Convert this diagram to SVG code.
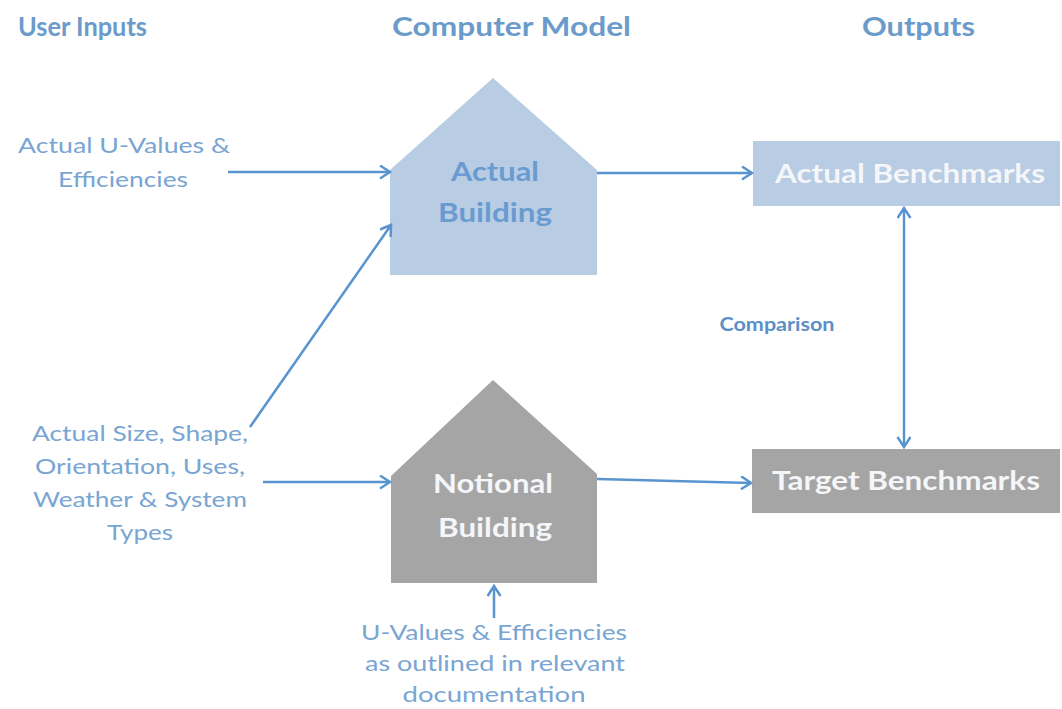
<svg xmlns="http://www.w3.org/2000/svg" width="1062" height="709" viewBox="0 0 1062 709">
  <style>
    .hdr { font-family: Lato, "Liberation Sans", sans-serif; font-weight: bold; font-size: 27px; fill: #6b9bcb; text-anchor: middle; }
    .inp { font-family: Lato, "Liberation Sans", sans-serif; font-size: 21px; fill: #79a5d3; text-anchor: middle; }
    .lbl { font-family: Lato, "Liberation Sans", sans-serif; font-weight: bold; font-size: 26px; text-anchor: middle; }
    .blue-txt { fill: #6a9bd0; }
    .light-txt { fill: #f4f6f9; }
    .cmp { font-family: Lato, "Liberation Sans", sans-serif; font-weight: bold; font-size: 19px; fill: #5b8fc7; text-anchor: middle; }
    .conn { fill: none; stroke: #5a94cf; stroke-width: 2.5; }
    .blue-fill { fill: #b8cce4; }
    .grey-fill { fill: #a5a5a5; }
  </style>
  <defs>
    <marker id="arrow" markerUnits="userSpaceOnUse" markerWidth="14" markerHeight="16" refX="11" refY="7" orient="auto-start-reverse" viewBox="0 0 14 16">
      <path d="M1,0.5 L11,7 L1,13.5" fill="none" stroke="#5a94cf" stroke-width="2.5"/>
    </marker>
  </defs>
  <rect width="1062" height="709" fill="#ffffff"/>

  <!-- column headings -->
  <g id="headings">
    <text class="hdr" x="82.5" y="36" textLength="129" lengthAdjust="spacingAndGlyphs">User Inputs</text>
    <text class="hdr" x="511.5" y="36" textLength="239" lengthAdjust="spacingAndGlyphs">Computer Model</text>
    <text class="hdr" x="918.5" y="36" textLength="113" lengthAdjust="spacingAndGlyphs">Outputs</text>
  </g>

  <!-- inputs -->
  <g id="input-actual-values">
    <text class="inp" x="124" y="153" textLength="212" lengthAdjust="spacingAndGlyphs">Actual U-Values &amp;</text>
    <text class="inp" x="123" y="187" textLength="130" lengthAdjust="spacingAndGlyphs">Efficiencies</text>
  </g>
  <g id="input-geometry">
    <text class="inp" x="140" y="441" textLength="216" lengthAdjust="spacingAndGlyphs">Actual Size, Shape,</text>
    <text class="inp" x="140" y="474" textLength="210" lengthAdjust="spacingAndGlyphs">Orientation, Uses,</text>
    <text class="inp" x="140" y="507" textLength="214" lengthAdjust="spacingAndGlyphs">Weather &amp; System</text>
    <text class="inp" x="140" y="540" textLength="66" lengthAdjust="spacingAndGlyphs">Types</text>
  </g>
  <g id="input-notional-values">
    <text class="inp" x="494" y="640" textLength="266" lengthAdjust="spacingAndGlyphs">U-Values &amp; Efficiencies</text>
    <text class="inp" x="495" y="671" textLength="260" lengthAdjust="spacingAndGlyphs">as outlined in relevant</text>
    <text class="inp" x="494" y="702" textLength="183" lengthAdjust="spacingAndGlyphs">documentation</text>
  </g>

  <!-- model buildings -->
  <g id="actual-building">
    <polygon class="blue-fill" points="390,170 493,78 597,170 597,275 390,275"/>
    <text class="lbl blue-txt" x="495" y="181" textLength="88" lengthAdjust="spacingAndGlyphs">Actual</text>
    <text class="lbl blue-txt" x="495" y="222" textLength="114" lengthAdjust="spacingAndGlyphs">Building</text>
  </g>
  <g id="notional-building">
    <polygon class="grey-fill" points="391,476 493,380 597,474 597,583 391,583"/>
    <text class="lbl light-txt" x="493" y="493" textLength="120" lengthAdjust="spacingAndGlyphs">Notional</text>
    <text class="lbl light-txt" x="495" y="537" textLength="114" lengthAdjust="spacingAndGlyphs">Building</text>
  </g>

  <!-- outputs -->
  <g id="actual-benchmarks">
    <rect class="blue-fill" x="753" y="141" width="307" height="65"/>
    <text class="lbl light-txt" x="910" y="183" textLength="270" lengthAdjust="spacingAndGlyphs">Actual Benchmarks</text>
  </g>
  <g id="target-benchmarks">
    <rect class="grey-fill" x="752" y="449" width="308" height="64"/>
    <text class="lbl light-txt" x="906" y="490" textLength="268" lengthAdjust="spacingAndGlyphs">Target Benchmarks</text>
  </g>
  <g id="comparison">
    <text class="cmp" x="777" y="331" textLength="115" lengthAdjust="spacingAndGlyphs">Comparison</text>
  </g>

  <!-- connectors -->
  <g id="connectors">
    <line class="conn" x1="228" y1="172" x2="390" y2="172" marker-end="url(#arrow)"/>
    <line class="conn" x1="250" y1="427" x2="391" y2="225" marker-end="url(#arrow)"/>
    <line class="conn" x1="263" y1="482" x2="390" y2="482" marker-end="url(#arrow)"/>
    <line class="conn" x1="597" y1="173" x2="752" y2="173" marker-end="url(#arrow)"/>
    <line class="conn" x1="597" y1="479" x2="751" y2="483" marker-end="url(#arrow)"/>
    <line class="conn" x1="494" y1="618" x2="494" y2="586" marker-end="url(#arrow)"/>
    <line class="conn" x1="904" y1="208" x2="904" y2="447" marker-start="url(#arrow)" marker-end="url(#arrow)"/>
  </g>
</svg>
